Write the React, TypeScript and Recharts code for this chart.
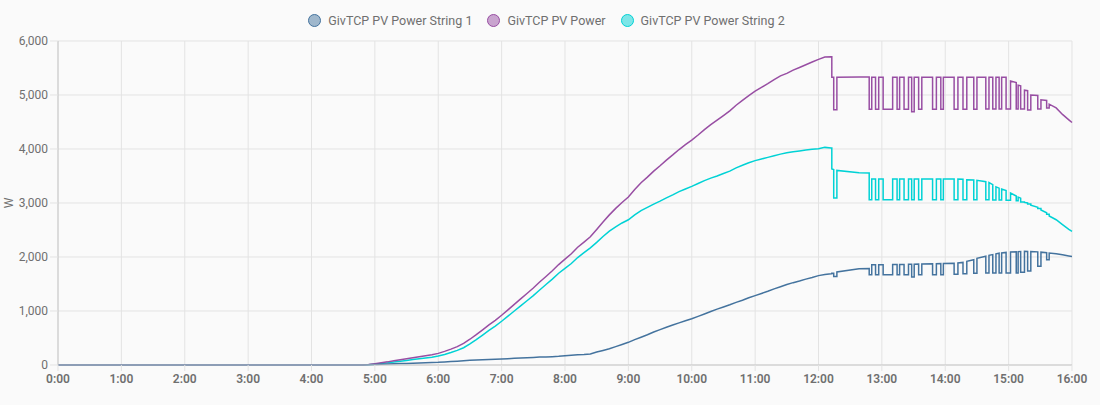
import React from "react";
import {
  LineChart,
  Line,
  XAxis,
  YAxis,
  CartesianGrid,
  Legend,
} from "recharts";

// ---- time (hours) : smooth rise ----
const timesRise = [
  0,
  4.8, 4.9,
  5.0, 5.1, 5.2, 5.3, 5.4, 5.5, 5.6, 5.7, 5.8, 5.9,
  6.0, 6.1, 6.2, 6.3, 6.4, 6.5, 6.6, 6.7, 6.8, 6.9,
  7.0, 7.1, 7.2, 7.3, 7.4, 7.5, 7.6, 7.7, 7.8, 7.9,
  8.0, 8.1, 8.2, 8.3, 8.4, 8.5, 8.6, 8.7, 8.8, 8.9,
  9.0, 9.1, 9.2, 9.3, 9.4, 9.5, 9.6, 9.7, 9.8, 9.9,
  10.0, 10.1, 10.2, 10.3, 10.4, 10.5, 10.6, 10.7, 10.8, 10.9,
  11.0, 11.1, 11.2, 11.3, 11.4, 11.5, 11.6, 11.7, 11.8, 11.9,
  12.0, 12.1, 12.2,
];

// ---- time (hours) : switching afternoon (each switch listed twice: before / after) ----
const timesLate = [
  12.21, 12.21, 12.24, 12.24, 12.29, 12.29, 12.64,
  12.8, 12.8, 12.84, 12.84, 12.9, 12.9, 12.95, 12.95,
  13.02, 13.02, 13.17, 13.17, 13.24, 13.24, 13.28, 13.28,
  13.35, 13.35, 13.42, 13.42, 13.47, 13.47, 13.51, 13.51,
  13.58, 13.58, 13.63, 13.63, 13.8, 13.8, 13.86, 13.86,
  13.93, 13.93, 13.97, 13.97, 14.14, 14.14, 14.2, 14.2,
  14.28, 14.28, 14.34, 14.34, 14.45, 14.45, 14.5, 14.5,
  14.64, 14.64, 14.69, 14.69, 14.75, 14.75, 14.8, 14.8,
  14.85, 14.85, 14.89, 14.89, 14.96, 14.96, 15.03, 15.03,
  15.12, 15.12, 15.15, 15.15, 15.19, 15.19, 15.25, 15.25,
  15.3, 15.3, 15.35, 15.35, 15.46, 15.46, 15.51, 15.51,
  15.6, 15.6, 15.64, 15.64,
  15.75, 15.85, 15.95, 16.0,
];

// ---- GivTCP PV Power String 1 (W) ----
const string1Rise = [
  0,
  0, 5,
  10, 14, 18, 22, 26, 30, 34, 38, 42, 46,
  50, 57, 64, 71, 80, 87, 92, 97, 102, 107,
  111, 117, 123, 129, 135, 141, 146, 150, 154, 160,
  170, 180, 190, 196, 205, 240, 270, 300, 340, 380,
  420, 470, 515, 560, 610, 655, 700, 740, 780, 820,
  857, 900, 945, 990, 1035, 1075, 1115, 1160, 1200, 1245,
  1285, 1325, 1365, 1410, 1450, 1490, 1525, 1555, 1590, 1620,
  1655, 1675, 1690,
];
const string1Late = [
  1690, 1700, 1700, 1641, 1641, 1722, 1783,
  1785, 1672, 1672, 1857, 1857, 1672, 1672, 1857,
  1858, 1672, 1672, 1860, 1861, 1672, 1672, 1862,
  1863, 1672, 1672, 1865, 1866, 1630, 1630, 1868,
  1869, 1672, 1672, 1870, 1874, 1672, 1672, 1875,
  1877, 1672, 1672, 1880, 1886, 1680, 1680, 1890,
  1900, 1690, 1690, 1920, 1950, 1700, 1700, 1975,
  2015, 1704, 1704, 2030, 2045, 1704, 1704, 2060,
  2070, 1704, 1704, 2075, 2085, 1704, 1704, 2093,
  2098, 1704, 1704, 2100, 2102, 1716, 1716, 2104,
  2103, 1740, 1740, 2100, 2095, 1827, 1827, 2090,
  2080, 1950, 1950, 2074,
  2061, 2040, 2020, 2011,
];

// ---- GivTCP PV Power String 2 (W) ----
const string2Rise = [
  0,
  0, 5,
  15, 28, 40, 55, 70, 85, 100, 115, 130, 145,
  165, 195, 230, 270, 320, 390, 470, 555, 640, 720,
  810, 905, 1000, 1095, 1190, 1285, 1390, 1490, 1590, 1700,
  1790, 1880, 1990, 2080, 2170, 2270, 2380, 2480, 2560, 2630,
  2690, 2780, 2860, 2920, 2980, 3035, 3095, 3150, 3210, 3260,
  3308, 3360, 3415, 3460, 3500, 3545, 3590, 3650, 3700, 3745,
  3785, 3815, 3845, 3875, 3905, 3930, 3950, 3965, 3980, 3995,
  4005, 4030, 4018,
];
const string2Late = [
  4018, 3630, 3620, 3093, 3093, 3604, 3560,
  3556, 3061, 3061, 3444, 3444, 3061, 3061, 3444,
  3444, 3061, 3061, 3444, 3444, 3061, 3061, 3444,
  3444, 3061, 3061, 3444, 3444, 3061, 3061, 3444,
  3444, 3061, 3061, 3444, 3444, 3061, 3061, 3444,
  3444, 3061, 3061, 3444, 3444, 3061, 3061, 3444,
  3440, 3061, 3061, 3430, 3425, 3061, 3061, 3420,
  3395, 3061, 3061, 3380, 3340, 3055, 3055, 3300,
  3275, 3055, 3055, 3260, 3230, 3050, 3050, 3185,
  3130, 3040, 3040, 3110, 3090, 3020, 3020, 3010,
  3000, 2980, 2980, 2960, 2920, 2900, 2900, 2870,
  2820, 2790, 2790, 2760,
  2690, 2600, 2510, 2474,
];

// ---- GivTCP PV Power (W) ----
const totalRise = [
  0,
  0, 10,
  25, 42, 58, 77, 96, 115, 134, 153, 172, 191,
  215, 252, 294, 341, 400, 477, 562, 652, 742, 827,
  921, 1022, 1123, 1224, 1325, 1426, 1536, 1640, 1744, 1860,
  1960, 2060, 2180, 2276, 2375, 2510, 2650, 2780, 2900, 3010,
  3110, 3250, 3375, 3480, 3590, 3690, 3795, 3890, 3990, 4080,
  4165, 4260, 4360, 4450, 4535, 4620, 4705, 4810, 4900, 4990,
  5070, 5140, 5210, 5285, 5355, 5400, 5460, 5510, 5560, 5610,
  5660, 5705, 5708,
];
const totalLate = [
  5708, 5330, 5330, 4728, 4728, 5330, 5335,
  5335, 4735, 4735, 5330, 5330, 4735, 4735, 5330,
  5330, 4735, 4735, 5330, 5330, 4735, 4735, 5330,
  5330, 4735, 4735, 5330, 5330, 4690, 4690, 5330,
  5330, 4735, 4735, 5330, 5330, 4735, 4735, 5330,
  5330, 4735, 4735, 5330, 5330, 4735, 4735, 5330,
  5330, 4735, 4735, 5330, 5330, 4735, 4735, 5330,
  5330, 4740, 4740, 5330, 5330, 4740, 4740, 5330,
  5330, 4740, 4740, 5330, 5330, 4740, 4740, 5260,
  5230, 4740, 4740, 5180, 5170, 4740, 4740, 5090,
  5080, 4720, 4720, 5000, 4990, 4740, 4740, 4910,
  4900, 4760, 4760, 4830,
  4760, 4640, 4540, 4490,
];

// ---- axes ----
const hourTicks = [0, 1, 2, 3, 4, 5, 6, 7, 8, 9, 10, 11, 12, 13, 14, 15, 16];
const powerTicks = [0, 1000, 2000, 3000, 4000, 5000, 6000];

const seriesNames = {
  s1: "GivTCP PV Power String 1",
  total: "GivTCP PV Power",
  s2: "GivTCP PV Power String 2",
};
const colors = { s1: "#44739e", total: "#984ea3", s2: "#00d2d5" };
const legendOrder: Array<"s1" | "total" | "s2"> = ["s1", "total", "s2"];

const times = [...timesRise, ...timesLate];
const s1 = [...string1Rise, ...string1Late];
const s2 = [...string2Rise, ...string2Late];
const total = [...totalRise, ...totalLate];
const data = times.map((t, i) => ({ t, s1: s1[i], s2: s2[i], total: total[i] }));

const FONT = "Roboto, 'Noto Sans', sans-serif";
const TEXT = "#6f6f6f";

const LegendContent = () => (
  <div
    style={{
      display: "flex",
      justifyContent: "center",
      height: 36,
      paddingTop: 7,
      paddingRight: 7,
      boxSizing: "border-box",
      fontFamily: FONT,
      fontSize: 12.5,
      color: TEXT,
      gap: 15,
    }}
  >
    {legendOrder.map((k) => (
      <div key={k} style={{ display: "flex", alignItems: "center", height: 16 }}>
        <span
          style={{
            display: "inline-block",
            width: 13,
            height: 13,
            borderRadius: "50%",
            border: `1.5px solid ${colors[k]}`,
            background: colors[k] + "80",
            boxSizing: "border-box",
            marginRight: 7,
          }}
        />
        <span>{seriesNames[k]}</span>
      </div>
    ))}
  </div>
);

const YLabel = (props: any) => {
  const vb = props.viewBox || { y: 41, height: 324 };
  const x = 9;
  const y = vb.y + vb.height / 2;
  return (
    <text
      x={x}
      y={y}
      transform={`rotate(-90 ${x} ${y})`}
      textAnchor="middle"
      dominantBaseline="central"
      fill={TEXT}
      fontSize={12}
      fontFamily={FONT}
    >
      W
    </text>
  );
};

export default function App() {
  return (
    <div
      style={{
        position: "absolute",
        left: 0,
        top: 0,
        width: 1100,
        height: 405,
        background: "#fafafa",
      }}
    >
      <LineChart
        width={1100}
        height={405}
        data={data}
        margin={{ top: 5, right: 28, bottom: 10, left: 0 }}
      >
        <CartesianGrid stroke="#e3e3e3" />
        <Legend
          verticalAlign="top"
          content={<LegendContent />}
          wrapperStyle={{ left: 0, width: 1100 }}
        />
        <XAxis
          type="number"
          dataKey="t"
          domain={[0, 16]}
          ticks={hourTicks}
          interval={0}
          tickFormatter={(v: number) => `${v}:00`}
          stroke="#c8c8c8"
          tickLine={{ stroke: "#e3e3e3" }}
          tickSize={6}
          tickMargin={3}
          height={30}
          tick={{ fill: TEXT, fontSize: 12, fontFamily: FONT, fontWeight: 600 }}
        />
        <YAxis
          type="number"
          domain={[0, 6000]}
          ticks={powerTicks}
          interval={0}
          width={58}
          tickFormatter={(v: number) => v.toLocaleString("en-US")}
          stroke="#c8c8c8"
          tickLine={{ stroke: "#e3e3e3" }}
          tickSize={8}
          tickMargin={2}
          tick={{ fill: TEXT, fontSize: 12, fontFamily: FONT }}
          label={YLabel}
        />
        <Line
          name={seriesNames.s2}
          dataKey="s2"
          type="linear"
          stroke={colors.s2}
          strokeWidth={1.5}
          dot={false}
          isAnimationActive={false}
        />
        <Line
          name={seriesNames.total}
          dataKey="total"
          type="linear"
          stroke={colors.total}
          strokeWidth={1.5}
          dot={false}
          isAnimationActive={false}
        />
        <Line
          name={seriesNames.s1}
          dataKey="s1"
          type="linear"
          stroke={colors.s1}
          strokeWidth={1.5}
          dot={false}
          isAnimationActive={false}
        />
      </LineChart>
    </div>
  );
}
